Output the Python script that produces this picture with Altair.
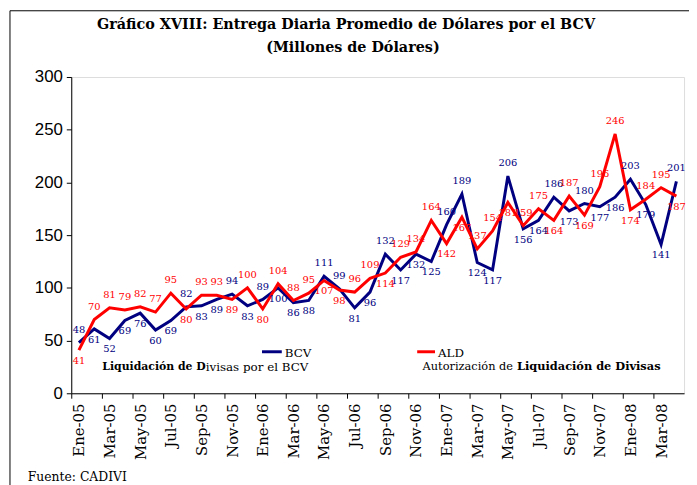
import altair as alt
import pandas as pd

meses = ["Ene-05", "Feb-05", "Mar-05", "Abr-05", "May-05", "Jun-05", "Jul-05", "Ago-05",
         "Sep-05", "Oct-05", "Nov-05", "Dic-05",
         "Ene-06", "Feb-06", "Mar-06", "Abr-06", "May-06", "Jun-06", "Jul-06", "Ago-06",
         "Sep-06", "Oct-06", "Nov-06", "Dic-06",
         "Ene-07", "Feb-07", "Mar-07", "Abr-07", "May-07", "Jun-07", "Jul-07", "Ago-07",
         "Sep-07", "Oct-07", "Nov-07", "Dic-07",
         "Ene-08", "Feb-08", "Mar-08", "Abr-08"]

bcv = [48, 61, 52, 69, 76, 60, 69, 82, 83, 89, 94, 83,
       89, 100, 86, 88, 111, 99, 81, 96, 132, 117, 132, 125,
       160, 189, 124, 117, 206, 156, 164, 186, 173, 180, 177, 186,
       203, 179, 141, 201]

ald = [41, 70, 81, 79, 82, 77, 95, 80, 93, 93, 89, 100,
       80, 104, 88, 95, 107, 98, 96, 109, 114, 129, 134, 164,
       142, 167, 137, 154, 181, 159, 175, 164, 187, 169, 196, 246,
       174, 184, 195, 187]

series_names = ["BCV", "ALD"]
series_colors = ["#000080", "#FF0000"]

y_ticks = [0, 50, 100, 150, 200, 250, 300]
x_label_idx = list(range(0, 40, 2)) + [40]

rows = []
for i, m in enumerate(meses):
    rows.append({"idx": i, "mes": m, "serie": "BCV", "valor": bcv[i],
                 "arriba": bcv[i] >= ald[i]})
    rows.append({"idx": i, "mes": m, "serie": "ALD", "valor": ald[i],
                 "arriba": ald[i] > bcv[i]})
df = pd.DataFrame(rows)

W, H = 620, 320
band = W / 40.0

label_array = "[" + ",".join("'" + m + "'" for m in meses) + "]"

x_axis = alt.Axis(values=x_label_idx,
                  labelExpr=f"datum.value < 40 ? {label_array}[datum.value] : ''",
                  labelAngle=-90, labelAlign="right", labelBaseline="middle",
                  labelFont="DejaVu Serif", labelFontSize=15, labelColor="black",
                  labelPadding=5, tickOffset=-band / 2, labelOffset=band / 2,
                  tickSize=5, tickColor="black", domainColor="black",
                  grid=False, title=None, labelOverlap=False, labelBound=False)
x_scale = alt.Scale(domain=[-0.5, 39.5], nice=False, zero=False)
x_enc = alt.X("idx:Q", scale=x_scale, axis=x_axis)

y_axis = alt.Axis(values=y_ticks, labelFont="Liberation Sans", labelFontSize=17,
                  labelColor="black", tickSize=5, tickColor="black",
                  domainColor="black", grid=False, title=None, labelPadding=4)
y_scale = alt.Scale(domain=[0, 300], nice=False)
y_enc = alt.Y("valor:Q", scale=y_scale, axis=y_axis)

color_enc = alt.Color("serie:N", scale=alt.Scale(domain=series_names, range=series_colors),
                      legend=None)

base = alt.Chart(df)

lines = base.mark_line(strokeWidth=3).encode(
    x=x_enc, y=y_enc, color=color_enc, detail="serie:N", order="idx:Q")

labels_up = base.transform_filter("datum.arriba").mark_text(
    font="DejaVu Serif", fontSize=10, dy=-13, baseline="middle").encode(
    x=x_enc, y=y_enc, text="valor:Q", color=color_enc)

labels_down = base.transform_filter("!datum.arriba").mark_text(
    font="DejaVu Serif", fontSize=10, dy=11, baseline="middle").encode(
    x=x_enc, y=y_enc, text="valor:Q", color=color_enc)

one = pd.DataFrame({"k": [0]})
deco = alt.Chart(one)

title1 = deco.mark_text(text="Gráfico XVIII: Entrega Diaria Promedio de Dólares por el BCV",
                        font="DejaVu Serif", fontSize=14.5, fontWeight="bold", align="center",
                        baseline="middle", color="black").encode(
    x=alt.value(278), y=alt.value(-53))
title2 = deco.mark_text(text="(Millones de Dólares)",
                        font="DejaVu Serif", fontSize=14.5, fontWeight="bold", align="center",
                        baseline="middle", color="black").encode(
    x=alt.value(285), y=alt.value(-29))

# legend keys
leg_bcv = deco.mark_rule(color=series_colors[0], strokeWidth=3).encode(
    x=alt.value(193), x2=alt.value(213), y=alt.value(278))
leg_ald = deco.mark_rule(color=series_colors[1], strokeWidth=3).encode(
    x=alt.value(350), x2=alt.value(368), y=alt.value(278))
leg_bcv_t = deco.mark_text(text="BCV", font="DejaVu Serif", fontSize=12, align="left",
                           baseline="middle", color="black").encode(
    x=alt.value(216), y=alt.value(279))
leg_ald_t = deco.mark_text(text="ALD", font="DejaVu Serif", fontSize=12, align="left",
                           baseline="middle", color="black").encode(
    x=alt.value(371), y=alt.value(279))

d1a = deco.mark_text(text="Liquidación de D", font="DejaVu Serif", fontSize=11,
                     fontWeight="bold", align="right", baseline="middle", color="black").encode(
    x=alt.value(136), y=alt.value(293))
d1b = deco.mark_text(text="ivisas por el BCV", font="DejaVu Serif", fontSize=12,
                     align="left", baseline="middle", color="black").encode(
    x=alt.value(136), y=alt.value(293))
d2a = deco.mark_text(text="Autorización de", font="DejaVu Serif", fontSize=11.5,
                     align="right", baseline="middle", color="black").encode(
    x=alt.value(447), y=alt.value(293))
d2b = deco.mark_text(text="Liquidación de Divisas", font="DejaVu Serif", fontSize=11.5,
                     fontWeight="bold", align="left", baseline="middle", color="black").encode(
    x=alt.value(451), y=alt.value(293))

fuente = deco.mark_text(text="Fuente: CADIVI", font="DejaVu Serif", fontSize=12.5,
                        align="left", baseline="middle", color="black").encode(
    x=alt.value(-44), y=alt.value(405))

frame_left = deco.mark_rule(color="black", strokeWidth=1).encode(
    x=alt.value(-62), y=alt.value(-67), y2=alt.value(420))
frame_top = deco.mark_rule(color="black", strokeWidth=1).encode(
    x=alt.value(-62), x2=alt.value(640), y=alt.value(-67))

chart = alt.layer(
    lines, labels_up, labels_down, title1, title2,
    leg_bcv, leg_ald, leg_bcv_t, leg_ald_t, d1a, d1b, d2a, d2b, fuente,
    frame_left, frame_top
).properties(
    width=W, height=H,
    padding={"left": 64, "top": 67, "right": 5, "bottom": 90},
    autosize=alt.AutoSizeParams(type="none"),
).configure_view(stroke=None).configure(background="white").configure_axisX(
    labelOverlap=False)

chart.save("out.html", embed_options={"renderer": "svg", "actions": False})
